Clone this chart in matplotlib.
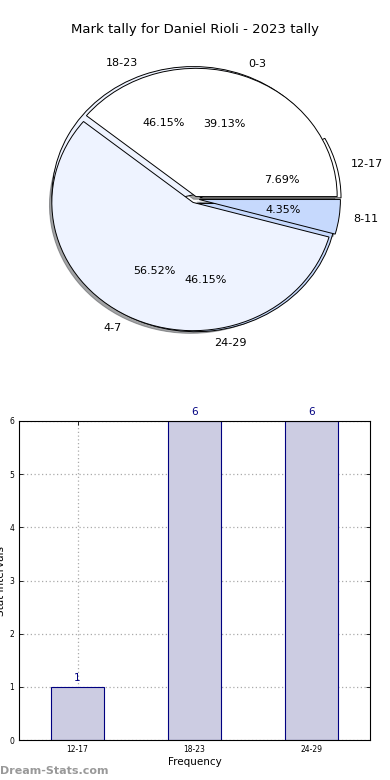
import matplotlib
matplotlib.use("Agg")
from matplotlib import pyplot as plt

# pie data (two tallies drawn on the same axes)
pie1_labels = ['0-3', '4-7', '8-11']
pie1_values = [9, 13, 1]
pie2_labels = ['12-17', '18-23', '24-29']
pie2_values = [1, 6, 6]

# bar data
bar_labels = ['12-17', '18-23', '24-29']
bar_values = [1, 6, 6]

pie_colors = ['white', '#eef3ff', '#c6d9fd']

fig = plt.figure(figsize=(3.9, 7.8), dpi=100)
fig.text(0.5, 1 - 30 / 780., 'Mark tally for Daniel Rioli - 2023 tally',
         ha='center', va='center', fontsize=9.5)

# pie axes, not equal aspect so the pie comes out a little wide
ax1 = fig.add_axes([10 / 390., 1 - 367 / 780., 370 / 390., 336 / 780.])
ax1.pie(pie2_values, labels=pie2_labels, colors=pie_colors, explode=[0.035] * 3,
        autopct='%1.2f%%', startangle=0, counterclock=True,
        wedgeprops={'edgecolor': 'black', 'linewidth': 0.7},
        textprops={'fontsize': 8})
ax1.pie(pie1_values, labels=pie1_labels, colors=pie_colors, explode=[0.02, 0.03, 0.03],
        autopct='%1.2f%%', startangle=0, shadow={'ox': -0.012, 'oy': -0.015},
        wedgeprops={'edgecolor': 'black', 'linewidth': 0.7},
        textprops={'fontsize': 8})
ax1.set_aspect('auto')
ax1.set_xlim(-1.31, 1.31)
ax1.set_ylim(-1.31, 1.31)
ax1.axis('off')

# bar axes
ax2 = fig.add_axes([19 / 390., 40 / 780., 351 / 390., 319 / 780.])
x = list(range(len(bar_labels)))
ax2.bar(x, bar_values, width=0.45, color='#ccccE2', edgecolor='navy', linewidth=0.8, zorder=2)
for xi, v in zip(x, bar_values):
    ax2.text(xi, v + 0.08, str(v), ha='center', va='bottom', color='navy', fontsize=7.5)
ax2.set_xlim(-0.5, 2.5)
ax2.set_ylim(0, 6)
ax2.set_xticks(x)
ax2.set_xticklabels(bar_labels, fontsize=5.5)
ax2.set_yticks(range(0, 7))
ax2.tick_params(axis='y', labelsize=5.5)
ax2.tick_params(direction='in', top=True, right=True, length=3, width=0.6)
ax2.grid(True, linestyle=(0, (1, 2)), color='#aaaaaa', linewidth=0.9, zorder=0)
ax2.set_axisbelow(True)
ax2.set_xlabel('Frequency', fontsize=7.5, labelpad=2)
ax2.set_ylabel('Stat Intervals', fontsize=7.5, labelpad=2)
for s in ax2.spines.values():
    s.set_linewidth(0.8)

fig.text(0.0, 1 - 771 / 780., 'Dream-Stats.com', ha='left', va='center',
         fontsize=8, color='#999999', fontweight='bold')

fig.savefig('out.png', dpi=100)
